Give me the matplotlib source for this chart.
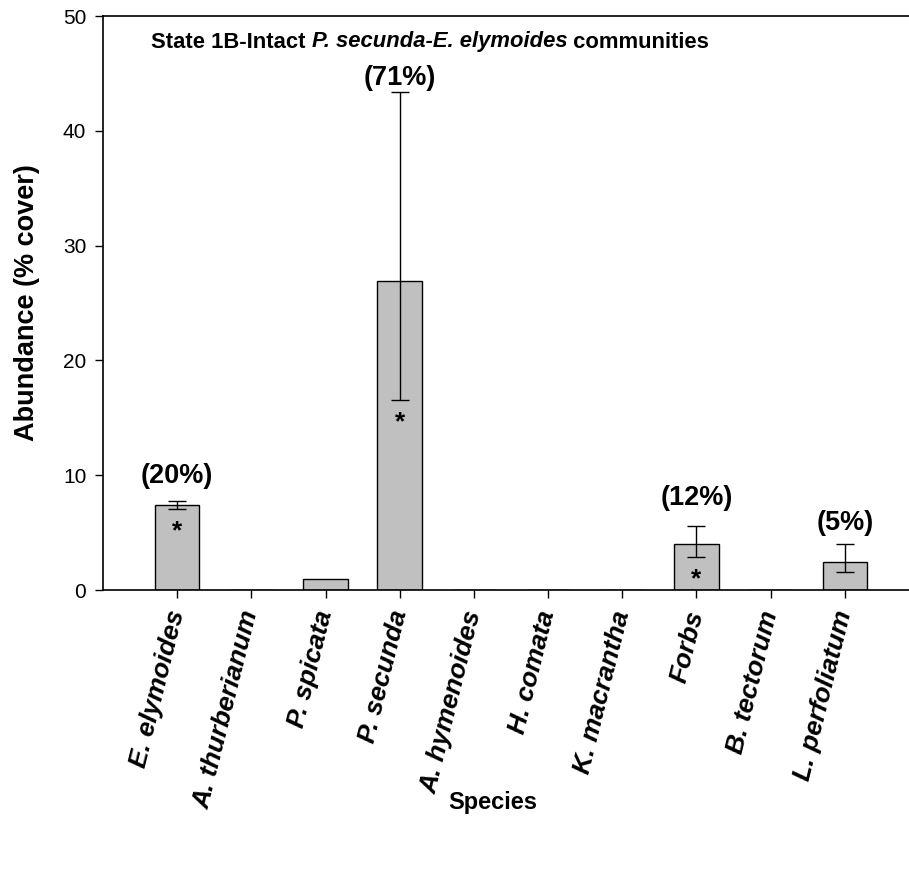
import matplotlib
matplotlib.use("Agg")
import matplotlib.pyplot as plt
import numpy as np
from matplotlib.offsetbox import TextArea, HPacker, AnchoredOffsetbox

plt.rcParams['font.family'] = ['Liberation Sans', 'DejaVu Sans']

species = ["E. elymoides", "A. thurberianum", "P. spicata", "P. secunda",
           "A. hymenoides", "H. comata", "K. macrantha", "Forbs",
           "B. tectorum", "L. perfoliatum"]
abundance = [7.4, 0.0, 1.0, 26.9, 0.0, 0.0, 0.0, 4.0, 0.0, 2.45]
err_low = [0.35, 0.0, 0.0, 10.35, 0.0, 0.0, 0.0, 1.13, 0.0, 0.92]
err_high = [0.38, 0.0, 0.0, 16.5, 0.0, 0.0, 0.0, 1.58, 0.0, 1.54]
pct_labels = ["(20%)", "", "", "(71%)", "", "", "", "(12%)", "", "(5%)"]
significant = [True, False, False, True, False, False, False, True, False, False]
y_ticks = [0, 10, 20, 30, 40, 50]

label_offsets_pt = [18, 0, 0, 10, 0, 0, 0, 20, 0, 15]

fig = plt.figure(figsize=(9.09, 8.75), dpi=100)
ax = fig.add_axes([103/909, 1-590/875, (919-103)/909, (590-16)/875])

x = np.arange(len(species))
ax.bar(x, abundance, width=0.6, color="#c0c0c0", edgecolor="black", linewidth=1.0, zorder=2)

for i in range(len(species)):
    if err_low[i] > 0 or err_high[i] > 0:
        ax.errorbar(x[i], abundance[i], yerr=[[err_low[i]], [err_high[i]]],
                    fmt="none", ecolor="black", elinewidth=1.0, capsize=6.5,
                    capthick=1.0, zorder=3)
    if pct_labels[i]:
        ax.annotate(pct_labels[i], (x[i], abundance[i] + err_high[i]),
                    xytext=(0, label_offsets_pt[i]), textcoords="offset points",
                    ha="center", va="center", fontsize=19.5, fontweight="bold")
    if significant[i]:
        ax.annotate("*", (x[i], abundance[i] - err_low[i]),
                    xytext=(0, -16), textcoords="offset points",
                    ha="center", va="center", fontsize=19, fontweight="bold")

ax.set_xlim(-1, 10)
ax.set_ylim(0, 50)
ax.set_yticks(y_ticks)
ax.set_xticks(x)
ax.set_xticklabels(species, rotation=76, ha="right", va="center",
                   rotation_mode="anchor", fontsize=19, fontweight="bold",
                   fontstyle="italic")
ax.tick_params(axis="x", direction="out", length=6, width=1, pad=9)
ax.tick_params(axis="y", direction="out", length=6, width=1, labelsize=15, pad=6)
ax.spines["right"].set_visible(False)
for s in ["left", "bottom", "top"]:
    ax.spines[s].set_linewidth(1.2)

fig.text(27/909, 1-303/875, "Abundance (% cover)", rotation=90, ha="center", va="center",
         fontsize=19.5, fontweight="bold")
fig.text(493/909, 1-802/875, "Species", ha="center", va="center",
         fontsize=17, fontweight="bold")

parts = [("State 1B-Intact ", "normal"), ("P. secunda-E. elymoides", "italic"), (" communities", "normal")]
areas = [TextArea(t, textprops=dict(fontsize=15.8, fontweight="bold", fontstyle=st)) for t, st in parts]
box = HPacker(children=areas, align="baseline", pad=0, sep=0)
ab = AnchoredOffsetbox(loc="center", child=box, frameon=False,
                       bbox_to_anchor=(430/909, 1-42/875), bbox_transform=fig.transFigure,
                       pad=0, borderpad=0)
fig.add_artist(ab)

fig.savefig("out.png", dpi=100)
